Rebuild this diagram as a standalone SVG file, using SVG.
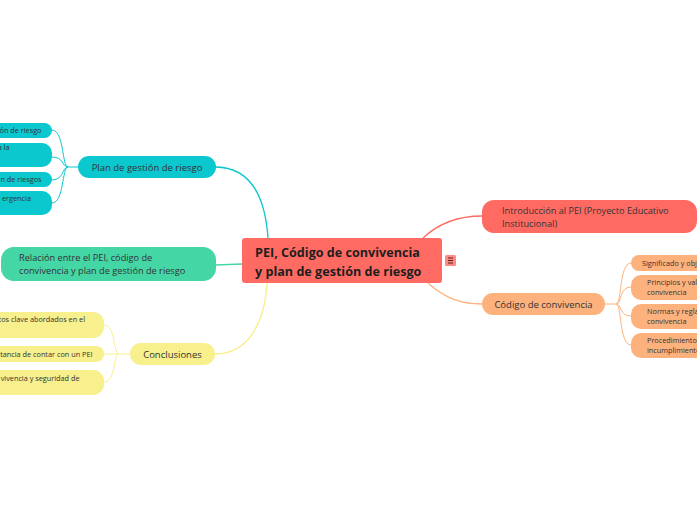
<svg xmlns="http://www.w3.org/2000/svg" width="697" height="520" viewBox="0 0 697 520">
<style>
text{font-family:"Open Sans","Noto Sans","Liberation Sans",sans-serif;fill:#333}
.c{fill:none;stroke-width:1.3}
.s{fill:none;stroke-width:1}
.t1{font-size:9.5px}
.t3{font-size:9.2px}
.t2{font-size:7.3px}
.ctr{font-size:12.6px;font-weight:bold;fill:#1e1e1e}
</style>
<rect width="697" height="520" fill="#fff"/>
<g id="connectors">
<path class="c" stroke="#0BC8CF" d="M215,167 C250,167 265,195 268,238"/>
<path class="c" stroke="#45D6A6" d="M215,265 L242,264"/>
<path class="c" stroke="#F8EF8D" d="M215,354 C250,354 265,320 267,283"/>
<path class="c" stroke="#FF6B63" d="M423,238 C440,222 460,216 482,216"/>
<path class="c" stroke="#FDB27D" d="M428,283 C445,298 460,304 482,304"/>
<g stroke="#0BC8CF">
<path class="s" d="M78,167 L68,167 C62,167 64,130 52,130"/>
<path class="s" d="M68,167 C62,167 64,157 52,157"/>
<path class="s" d="M68,167 C62,167 64,180 52,180"/>
<path class="s" d="M68,167 C62,167 64,203 52,203"/>
</g>
<g stroke="#F8EF8D">
<path class="s" d="M130,354 L119,354 C113,354 116,325 104,325"/>
<path class="s" d="M119,354 L104,354"/>
<path class="s" d="M119,354 C113,354 116,382 104,382"/>
</g>
<g stroke="#FDB27D">
<path class="s" d="M605,304 L616,304 C622,304 619,263 631,263"/>
<path class="s" d="M616,304 C622,304 619,287 631,287"/>
<path class="s" d="M616,304 C622,304 619,316 631,316"/>
<path class="s" d="M616,304 C622,304 619,345 631,345"/>
</g>
</g>
<g id="center">
<rect x="242" y="238" width="200" height="45" rx="3" fill="#FF6B63"/>
<text class="ctr" x="255" y="257">PEI, Código de convivencia</text>
<text class="ctr" x="255" y="276">y plan de gestión de riesgo</text>
</g>
<g id="center-icon">
<rect x="445" y="255" width="11" height="11" rx="1.5" fill="#FF8A84"/>
<path d="M448,258 h5 M448,260.5 h5 M448,263 h5" stroke="#5a1f1c" stroke-width="1"/>
</g>
<g id="intro">
<rect x="482" y="200" width="215" height="33" rx="12" fill="#FF6B63"/>
<text class="t3" x="502" y="214">Introducción al PEI (Proyecto Educativo</text>
<text class="t3" x="502" y="227">Institucional)</text>
</g>
<g id="codigo">
<rect x="482" y="293" width="123" height="22" rx="11" fill="#FDB27D"/>
<text class="t1" x="543.5" y="307.5" text-anchor="middle">Código de convivencia</text>
</g>
<g id="cod-1">
<rect x="631" y="255" width="80" height="16" rx="8" fill="#FDB27D"/>
<text class="t2" x="642" y="266">Significado y obj</text>
</g>
<g id="cod-2">
<rect x="631" y="275" width="80" height="25" rx="10" fill="#FDB27D"/>
<text class="t2" x="647" y="285">Principios y val</text>
<text class="t2" x="647" y="294.5">convivencia</text>
</g>
<g id="cod-3">
<rect x="631" y="304" width="80" height="25" rx="10" fill="#FDB27D"/>
<text class="t2" x="647" y="314">Normas y regla</text>
<text class="t2" x="647" y="323.5">convivencia</text>
</g>
<g id="cod-4">
<rect x="631" y="333" width="80" height="25" rx="10" fill="#FDB27D"/>
<text class="t2" x="647" y="343">Procedimientos</text>
<text class="t2" x="647" y="352.5">incumplimiento</text>
</g>
<g id="plan">
<rect x="78" y="156" width="138" height="22" rx="11" fill="#0BC8CF"/>
<text class="t1" x="147" y="170.5" text-anchor="middle">Plan de gestión de riesgo</text>
</g>
<g id="plan-1">
<rect x="-40" y="123" width="92" height="15" rx="7.5" fill="#0BC8CF"/>
<text class="t2" x="41.5" y="133" text-anchor="end">ón de riesgo</text>
</g>
<g id="plan-2">
<rect x="-40" y="143" width="92" height="24" rx="10" fill="#0BC8CF"/>
<text class="t2" x="9.5" y="150" text-anchor="end">a la</text>
</g>
<g id="plan-3">
<rect x="-40" y="172" width="92" height="15" rx="7.5" fill="#0BC8CF"/>
<text class="t2" x="41.5" y="181.5" text-anchor="end">n de riesgos</text>
</g>
<g id="plan-4">
<rect x="-40" y="191" width="92" height="24" rx="10" fill="#0BC8CF"/>
<text class="t2" x="31" y="201" text-anchor="end">ergencia</text>
</g>
<g id="relacion">
<rect x="1" y="247" width="215" height="34" rx="13" fill="#45D6A6"/>
<text class="t3" x="19" y="261">Relación entre el PEI, código de</text>
<text class="t3" x="19" y="274">convivencia y plan de gestión de riesgo</text>
</g>
<g id="conclusiones">
<rect x="130" y="343" width="85" height="22" rx="11" fill="#F8EF8D"/>
<text class="t1" x="172.5" y="357.5" text-anchor="middle">Conclusiones</text>
</g>
<g id="conc-1">
<rect x="-40" y="312" width="144" height="26" rx="11" fill="#F8EF8D"/>
<text class="t2" x="85" y="322" text-anchor="end">tos clave abordados en el</text>
</g>
<g id="conc-2">
<rect x="-40" y="346" width="144" height="16" rx="8" fill="#F8EF8D"/>
<text class="t2" x="92.5" y="357" text-anchor="end">rtancia de contar con un PEI</text>
</g>
<g id="conc-3">
<rect x="-40" y="370" width="144" height="25" rx="11" fill="#F8EF8D"/>
<text class="t2" x="79.5" y="380.5" text-anchor="end">vivencia y seguridad de</text>
</g>
</svg>
